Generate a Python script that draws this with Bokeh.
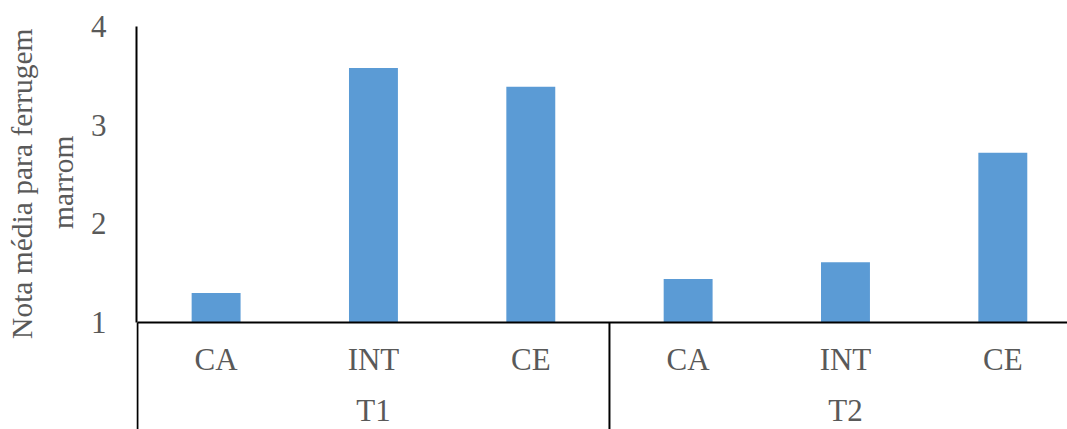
from bokeh.plotting import figure
from bokeh.models import Range1d, LinearAxis, FixedTicker, Title
from bokeh.core.properties import value
from bokeh.embed import file_html
from bokeh.resources import INLINE

groups = ["T1", "T2"]
treatments = ["CA", "INT", "CE"]
values_t1 = [1.30, 3.58, 3.39]
values_t2 = [1.44, 1.61, 2.72]
y_ticks = [1, 2, 3, 4]
y_title_lines = ["Nota média para ferrugem", "marrom"]

labels = treatments * len(groups)
values = values_t1 + values_t2
xs = [i + 0.5 for i in range(len(values))]
group_pos = [len(treatments) * g + len(treatments) / 2 for g in range(len(groups))]
separators = [len(treatments) * g for g in range(len(groups))]

FONT = "Liberation Serif"
TXT = "#595959"
BAR = "#5B9BD5"

# layout: y=4 at 26px, y=1 at 322px, figure bottom at 429px; one category = 157.5px
unit = 296 / 3.0
cat_px = 157.5
y_low = 1 - 107 / unit
x_high = 931 / cat_px
cat_y = 1 - 37 / unit
grp_y = 1 - 88 / unit

p = figure(width=1067, height=429, output_backend="svg", toolbar_location=None,
           x_range=Range1d(-0.006, x_high), y_range=Range1d(y_low, 4),
           x_axis_type=None, y_axis_type=None,
           min_border_left=136, min_border_right=0, min_border_top=26, min_border_bottom=0)
p.outline_line_color = None
p.xgrid.visible = False
p.ygrid.visible = False

p.vbar(x=xs, top=values, bottom=1, width=0.311, fill_color=BAR, line_color=None)

# category axis line and separators
p.segment(x0=[0], y0=[1], x1=[x_high], y1=[1], line_color="black", line_width=2)
p.segment(x0=separators, y0=[y_low] * len(separators), x1=separators, y1=[1] * len(separators),
          line_color="black", line_width=2)

p.text(x=xs, y=[cat_y] * len(xs), text=labels, text_align="center", text_baseline="middle",
       text_font=value(FONT), text_font_size="31px", text_color=TXT)
p.text(x=group_pos, y=[grp_y] * len(group_pos), text=groups, text_align="center",
       text_baseline="middle", text_font=value(FONT), text_font_size="31px", text_color=TXT)

# y axis
yax = LinearAxis(ticker=FixedTicker(ticks=y_ticks, minor_ticks=[]), bounds=(1, 4))
yax.axis_line_color = "black"
yax.axis_line_width = 2
yax.major_tick_out = 0
yax.major_tick_in = 0
yax.minor_tick_out = 0
yax.minor_tick_in = 0
yax.major_label_text_font = FONT
yax.major_label_text_font_size = "31px"
yax.major_label_text_color = TXT
yax.major_label_standoff = 30
p.add_layout(yax, "left")

# two-line y title (second line nearest to the axis)
t2 = Title(text=y_title_lines[1], align="right", offset=109, standoff=18,
           text_font=FONT, text_font_size="29.5px", text_font_style="normal", text_color=TXT)
t1 = Title(text=y_title_lines[0], align="right", offset=2, standoff=-5,
           text_font=FONT, text_font_size="29.5px", text_font_style="normal", text_color=TXT)
p.add_layout(t2, "left")
p.add_layout(t1, "left")

open("out.html", "w").write(file_html(p, INLINE))
